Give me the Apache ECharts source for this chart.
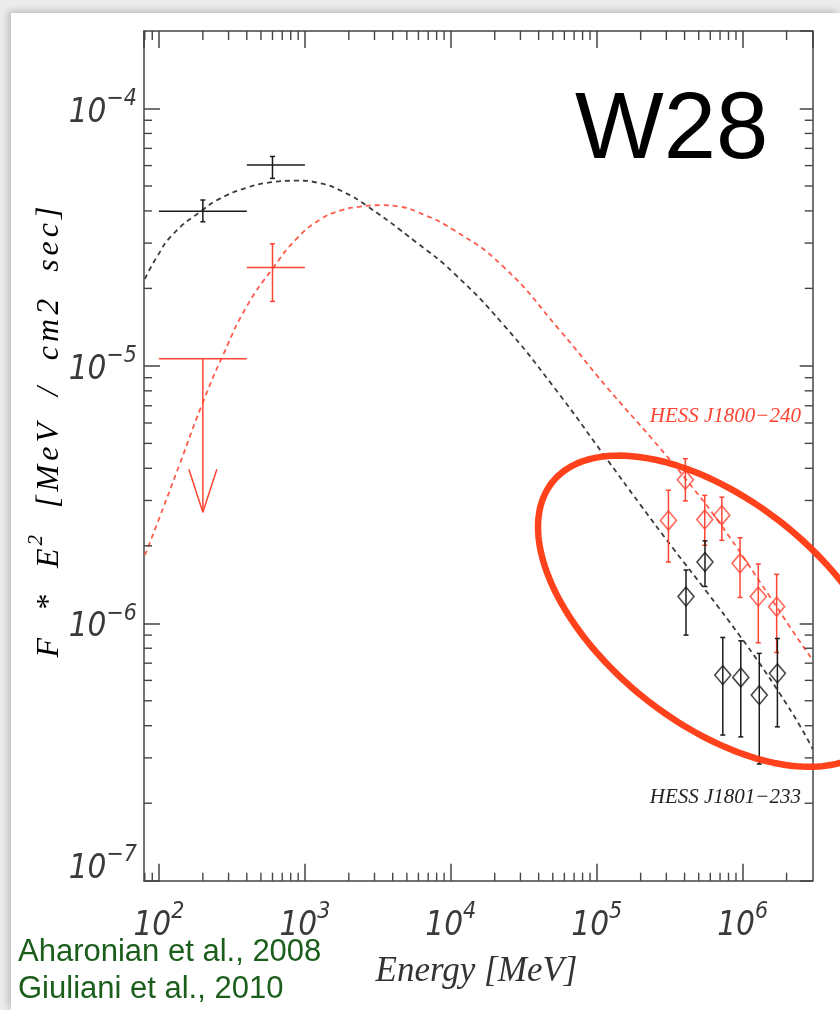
<!DOCTYPE html>
<html>
<head>
<meta charset="utf-8">
<script src="https://cdn.jsdelivr.net/npm/echarts@6/dist/echarts.min.js"></script>
<style>
  html, body { margin: 0; padding: 0; background: #ececec; }
  #panel { position: absolute; left: 11px; top: 13px; width: 829px; height: 997px; background: #fff;
           box-shadow: -3px -2px 7px rgba(0,0,0,0.20); }
  #chart { position: absolute; left: 0; top: 0; width: 840px; height: 1010px; }
</style>
</head>
<body>
<div id="panel"></div>
<div id="chart"></div>
<script>
// Axis extents: energy [MeV] and E^2 F [MeV / cm2 s]
const xMin = 79, xMax = 3.02e6;
const yMin = 1e-7, yMax = 2e-4;

// GeV points (energy bins 100-400 and 400-1000 MeV)
const gevEnergy = [200, 600];
const gevBinLo = [100, 400];
const gevBinHi = [400, 1000];
const gevNorthFlux = [3.99e-5, 6.03e-5];
const gevNorthLo = [3.63e-5, 5.35e-5];
const gevNorthHi = [4.41e-5, 6.51e-5];
const gevSouthEnergy = [600];
const gevSouthFlux = [2.41e-5];
const gevSouthLo = [1.78e-5];
const gevSouthHi = [2.98e-5];
// Upper limit for the southern source in the 100-400 MeV bin
const ulEnergy = [200];
const ulFlux = [1.066e-5];
const ulArrowTip = [2.7e-6];

// TeV spectrum, HESS J1800-240
const tevSouthEnergy = [3.1e5, 4.05e5, 5.5e5, 7.2e5, 9.6e5, 1.28e6, 1.71e6];
const tevSouthFlux = [2.51e-6, 3.61e-6, 2.53e-6, 2.63e-6, 1.71e-6, 1.27e-6, 1.16e-6];
const tevSouthLo = [1.73e-6, 2.99e-6, 2.01e-6, 2.10e-6, 1.26e-6, 8.4e-7, 7.7e-7];
const tevSouthHi = [3.29e-6, 4.36e-6, 3.14e-6, 3.09e-6, 2.15e-6, 1.70e-6, 1.55e-6];

// TeV spectrum, HESS J1801-233
const tevNorthEnergy = [4.09e5, 5.52e5, 7.31e5, 9.71e5, 1.30e6, 1.73e6];
const tevNorthFlux = [1.27e-6, 1.73e-6, 6.29e-7, 6.16e-7, 5.26e-7, 6.39e-7];
const tevNorthLo = [9.0e-7, 1.39e-6, 3.68e-7, 3.62e-7, 2.84e-7, 3.96e-7];
const tevNorthHi = [1.61e-6, 2.09e-6, 8.81e-7, 8.55e-7, 7.64e-7, 8.73e-7];

// Hadronic model curves
const modelNorthEnergy = [80.2, 96.4, 125.3, 196.2, 261.9, 399, 592, 878.7, 1269, 1824, 2652, 5838,
  1.04e4, 2.29e4, 5.041e4, 1.177e5, 1.981e5, 3.334e5, 5.702e5, 9.6e5, 1.316e6, 1.805e6, 2.474e6, 3.02e6];
const modelNorthFlux = [2.178e-5, 2.641e-5, 3.256e-5, 4.009e-5, 4.463e-5, 4.923e-5, 5.171e-5, 5.241e-5,
  5.125e-5, 4.751e-5, 4.191e-5, 3.012e-5, 2.303e-5, 1.447e-5, 8.32e-6, 4.333e-6, 2.898e-6, 1.956e-6,
  1.32e-6, 8.91e-7, 6.94e-7, 5.31e-7, 3.99e-7, 3.246e-7];
const modelSouthEnergy = [80.2, 101.6, 139.3, 196.2, 275.9, 399, 607.4, 878.7, 1269, 1740, 2386, 3271,
  4486, 5838, 1.04e4, 2.29e4, 5.603e4, 1.171e5, 2.443e5, 4.14e5, 7.0e5, 1.541e6, 2.113e6, 3.02e6];
const modelSouthFlux = [1.838e-6, 2.603e-6, 4.18e-6, 7.02e-6, 1.107e-5, 1.70e-5, 2.408e-5, 3.122e-5,
  3.699e-5, 4.009e-5, 4.154e-5, 4.21e-5, 4.154e-5, 3.972e-5, 3.382e-5, 2.43e-5, 1.372e-5, 8.27e-6,
  5.135e-6, 3.593e-6, 2.439e-6, 1.266e-6, 9.66e-7, 7.19e-7];

// Highlight ellipse around the TeV points, in decades (log10 E, log10 F)
const ringCentre = [5.804, -5.953];
const ringAxisU = [1.2063, -0.3271];
const ringAxisV = [0, -0.5083];

const black = '#1a1a1a';
const red = '#ff4433';
const frameColor = '#444';
const tickFont = "'Liberation Sans Narrow', 'DejaVu Sans Condensed', 'Liberation Sans', sans-serif";
const serif = "'Liberation Serif', 'DejaVu Serif', serif";
const sans = "'Liberation Sans', Arial, sans-serif";

// minor ticks at 2..9 x 10^n inside the axis ranges
const xMinor = [], yMinor = [];
for (let e = 1; e <= 6; e++) for (let m = 2; m <= 9; m++) {
  const v = m * Math.pow(10, e);
  if (v > xMin * 1.005 && v < xMax * 0.99) xMinor.push(v);
}
for (let e = -7; e <= -4; e++) for (let m = 2; m <= 9; m++) {
  const v = m * Math.pow(10, e);
  if (v > yMin * 1.005 && v < yMax * 0.99) yMinor.push(v);
}

function powerLabel(v) {
  const e = Math.round(Math.log10(v));
  const exp = e < 0 ? '\u2212' + (-e) : String(e);
  return e === -7 ? '{bl|10}{sl|' + exp + '}' : '{b|10}{s|' + exp + '}';
}
const labelBase = { fontFamily: tickFont, fontStyle: 'italic', fontSize: 33, color: '#3a3a3a', verticalAlign: 'bottom' };
const labelSup = { fontFamily: tickFont, fontStyle: 'italic', fontSize: 23, color: '#3a3a3a', verticalAlign: 'top' };
const labelRich = {
  b: Object.assign({}, labelBase, { padding: [9, 0, 0, 0] }),
  s: labelSup,
  bl: Object.assign({}, labelBase, { padding: [9, 0, 32, 0] }),
  sl: labelSup
};

function logAxis(extra) {
  return Object.assign({
    type: 'log', logBase: 10,
    axisLine: { show: true, onZero: false, lineStyle: { color: frameColor, width: 1.5 } },
    axisTick: { show: true, inside: true, length: 16, lineStyle: { color: frameColor, width: 1.5 } },
    splitLine: { show: false },
    minorTick: { show: false }
  }, extra);
}

function line(x1, y1, x2, y2, color, w) {
  return { type: 'line', shape: { x1, y1, x2, y2 }, style: { stroke: color, lineWidth: w || 1.5, lineCap: 'butt' } };
}

// vertical error bar with small caps
function vErrRender(color) {
  return function (params, api) {
    const x = api.value(0);
    const pLo = api.coord([x, api.value(2)]);
    const pHi = api.coord([x, api.value(3)]);
    const c = 2.5;
    return { type: 'group', children: [
      line(pLo[0], pLo[1], pHi[0], pHi[1], color, 1.5),
      line(pLo[0] - c, pLo[1], pLo[0] + c, pLo[1], color, 1.5),
      line(pHi[0] - c, pHi[1], pHi[0] + c, pHi[1], color, 1.5)
    ] };
  };
}

// energy bin + flux error cross
function crossRender(color) {
  return function (params, api) {
    const x = api.value(0), y = api.value(1);
    const pL = api.coord([api.value(2), y]);
    const pR = api.coord([api.value(3), y]);
    const pLo = api.coord([x, api.value(4)]);
    const pHi = api.coord([x, api.value(5)]);
    const c = 2.5;
    return { type: 'group', children: [
      line(pL[0], pL[1], pR[0], pR[1], color, 1.6),
      line(pLo[0], pLo[1], pHi[0], pHi[1], color, 1.5),
      line(pLo[0] - c, pLo[1], pLo[0] + c, pLo[1], color, 1.5),
      line(pHi[0] - c, pHi[1], pHi[0] + c, pHi[1], color, 1.5)
    ] };
  };
}

// spaced axis title: each glyph its own fragment, words separated by gaps
function spacedTitle(words) {
  return words.map(w => w.map(([k, s]) => s.split('').map(ch => '{' + k + '|' + ch + '}').join('')).join(''))
              .join('{g| }');
}

const chart = echarts.init(document.getElementById('chart'), null, { renderer: 'canvas' });

const option = {
  animation: false,
  backgroundColor: 'transparent',
  grid: { left: 144, top: 31, right: 27.3, bottom: 129.3, containLabel: false },
  xAxis: [
    logAxis({ position: 'bottom', min: xMin, max: xMax,
      axisTick: { show: true, inside: true, length: 17, lineStyle: { color: frameColor, width: 1.5 } },
      axisLabel: { show: true, margin: 20, formatter: powerLabel, rich: labelRich, showMinLabel: false, showMaxLabel: false } }),
    logAxis({ position: 'top', min: xMin, max: xMax,
      axisTick: { show: true, inside: true, length: 17, lineStyle: { color: frameColor, width: 1.5 } },
      axisLabel: { show: false } })
  ],
  yAxis: [
    logAxis({ position: 'left', min: yMin, max: yMax,
      axisLabel: { show: true, margin: 7, formatter: powerLabel, rich: labelRich, showMinLabel: true, showMaxLabel: false } }),
    logAxis({ position: 'right', min: yMin, max: yMax,
      axisTick: { show: true, inside: true, length: 13, lineStyle: { color: frameColor, width: 1.5 } },
      axisLabel: { show: false } })
  ],
  series: [
    // minor ticks on bottom/top
    { type: 'custom', silent: true, z: 3, data: xMinor.map(v => [v, 1e-6]),
      renderItem: (params, api) => {
        const cs = params.coordSys;
        const x = api.coord([api.value(0), 1e-6])[0];
        const b = cs.y + cs.height, t = cs.y;
        return { type: 'group', children: [
          line(x, b, x, b - 8, frameColor, 1.4), line(x, t, x, t + 9, frameColor, 1.4) ] };
      } },
    // minor ticks on left/right
    { type: 'custom', silent: true, z: 3, data: yMinor.map(v => [1000, v]),
      renderItem: (params, api) => {
        const cs = params.coordSys;
        const y = api.coord([1000, api.value(1)])[1];
        const l = cs.x, r = cs.x + cs.width;
        return { type: 'group', children: [
          line(l, y, l + 8, y, frameColor, 1.4), line(r, y, r - 8, y, frameColor, 1.4) ] };
      } },
    // model curves
    { type: 'line', name: 'model J1801-233', showSymbol: false, smooth: 0.5, z: 2,
      data: modelNorthEnergy.map((e, i) => [e, modelNorthFlux[i]]),
      lineStyle: { color: '#3c3c3c', width: 1.8, type: [5, 4] } },
    { type: 'line', name: 'model J1800-240', showSymbol: false, smooth: 0.5, z: 2,
      data: modelSouthEnergy.map((e, i) => [e, modelSouthFlux[i]]),
      lineStyle: { color: '#ff5a4a', width: 1.8, type: [5, 4] } },
    // GeV crosses
    { type: 'custom', name: 'GeV J1801-233', z: 4, renderItem: crossRender(black),
      data: gevEnergy.map((e, i) => [e, gevNorthFlux[i], gevBinLo[i], gevBinHi[i], gevNorthLo[i], gevNorthHi[i]]) },
    { type: 'custom', name: 'GeV J1800-240', z: 4, renderItem: crossRender(red),
      data: gevSouthEnergy.map((e, i) => [e, gevSouthFlux[i], gevBinLo[1], gevBinHi[1], gevSouthLo[i], gevSouthHi[i]]) },
    // upper limit with arrow
    { type: 'custom', name: 'UL J1800-240', z: 4,
      data: ulEnergy.map((e, i) => [e, ulFlux[i], gevBinLo[0], gevBinHi[0], ulArrowTip[i]]),
      renderItem: (params, api) => {
        const x = api.value(0), y = api.value(1);
        const pL = api.coord([api.value(2), y]);
        const pR = api.coord([api.value(3), y]);
        const pTop = api.coord([x, y]);
        const pTip = api.coord([x, api.value(4)]);
        return { type: 'group', children: [
          line(pL[0], pL[1], pR[0], pR[1], red, 1.6),
          line(pTop[0], pTop[1], pTip[0], pTip[1], red, 1.5),
          line(pTip[0], pTip[1], pTip[0] - 14, pTip[1] - 43, red, 1.5),
          line(pTip[0], pTip[1], pTip[0] + 14, pTip[1] - 43, red, 1.5) ] };
      } },
    // TeV error bars
    { type: 'custom', name: 'HESS J1800-240 err', z: 4, renderItem: vErrRender(red),
      data: tevSouthEnergy.map((e, i) => [e, tevSouthFlux[i], tevSouthLo[i], tevSouthHi[i]]) },
    { type: 'custom', name: 'HESS J1801-233 err', z: 4, renderItem: vErrRender(black),
      data: tevNorthEnergy.map((e, i) => [e, tevNorthFlux[i], tevNorthLo[i], tevNorthHi[i]]) },
    // TeV diamonds
    { type: 'scatter', name: 'HESS J1800-240', z: 5, symbol: 'diamond', symbolSize: [16, 19],
      data: tevSouthEnergy.map((e, i) => [e, tevSouthFlux[i]]),
      itemStyle: { color: 'rgba(0,0,0,0)', borderColor: red, borderWidth: 1.6 } },
    { type: 'scatter', name: 'HESS J1801-233', z: 5, symbol: 'diamond', symbolSize: [16, 19],
      data: tevNorthEnergy.map((e, i) => [e, tevNorthFlux[i]]),
      itemStyle: { color: 'rgba(0,0,0,0)', borderColor: black, borderWidth: 1.6 } },
    // highlight ring
    { type: 'custom', name: 'ring', silent: true, z: 10, clip: false, data: [ringCentre],
      renderItem: (params, api) => {
        const pts = [];
        for (let k = 0; k <= 180; k++) {
          const t = k / 180 * Math.PI * 2;
          const lx = ringCentre[0] + ringAxisU[0] * Math.cos(t) + ringAxisV[0] * Math.sin(t);
          const ly = ringCentre[1] + ringAxisU[1] * Math.cos(t) + ringAxisV[1] * Math.sin(t);
          pts.push(api.coord([Math.pow(10, lx), Math.pow(10, ly)]));
        }
        return { type: 'polyline', shape: { points: pts },
          style: { stroke: '#ff3c14', lineWidth: 6.5, fill: null, lineJoin: 'round', opacity: 0.97 } };
      } }
  ],
  graphic: [
    { type: 'text', x: 575, y: 132, z: 20,
      style: { text: 'W28', fontFamily: sans, fontSize: 94, fill: '#000', align: 'left', verticalAlign: 'middle' } },
    { type: 'text', x: 801, y: 416, z: 20,
      style: { text: 'HESS J1800\u2212240', fontFamily: serif, fontStyle: 'italic', fontSize: 21, fill: red,
               align: 'right', verticalAlign: 'middle' } },
    { type: 'text', x: 801, y: 797, z: 20,
      style: { text: 'HESS J1801\u2212233', fontFamily: serif, fontStyle: 'italic', fontSize: 21, fill: '#222',
               align: 'right', verticalAlign: 'middle' } },
    { type: 'text', x: 476.5, y: 972, z: 20,
      style: { text: 'Energy [MeV]', fontFamily: serif, fontStyle: 'italic', fontSize: 35, fill: '#333',
               align: 'center', verticalAlign: 'middle' } },
    { type: 'text', x: 46, y: 432, z: 20, rotation: Math.PI / 2,
      style: { text: spacedTitle([[['t', 'F']], [['t', '*']], [['t', 'E'], ['p', '2']], [['t', '[MeV']], [['t', '/']], [['t', 'cm2']], [['t', 'sec]']]]),
               align: 'center', verticalAlign: 'middle',
               rich: {
                 t: { fontFamily: serif, fontStyle: 'italic', fontSize: 32, color: '#333', padding: [8, 2, 0, 2], verticalAlign: 'bottom' },
                 p: { fontFamily: serif, fontStyle: 'italic', fontSize: 21, color: '#333', padding: [0, 2, 0, 1], verticalAlign: 'top' },
                 g: { fontFamily: serif, fontSize: 32, width: 23 }
               } } },
    { type: 'text', x: 18, y: 952, z: 20,
      style: { text: 'Aharonian et al., 2008', fontFamily: sans, fontSize: 31, fill: '#1b5e1b', align: 'left', verticalAlign: 'middle' } },
    { type: 'text', x: 18, y: 989, z: 20,
      style: { text: 'Giuliani et al., 2010', fontFamily: sans, fontSize: 31, fill: '#1b5e1b', align: 'left', verticalAlign: 'middle' } }
  ]
};

chart.setOption(option);
</script>
</body>
</html>
